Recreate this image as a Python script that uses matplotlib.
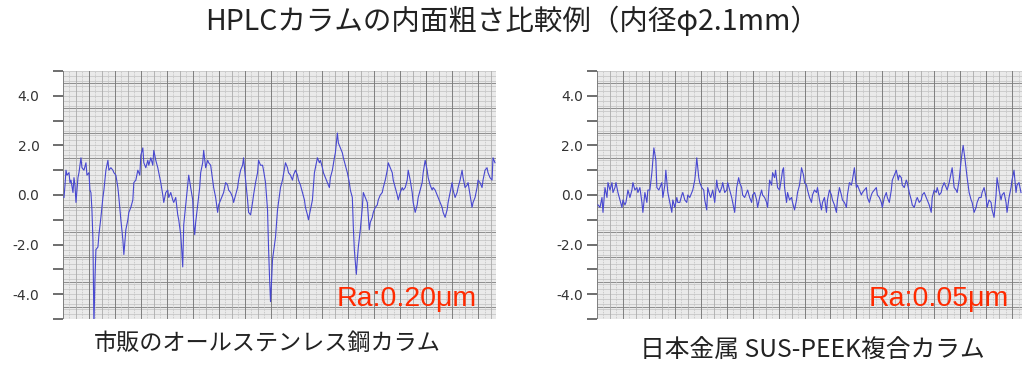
import numpy as np
import matplotlib
matplotlib.use("Agg")
import matplotlib.pyplot as plt

plt.rcParams['font.family'] = ['Noto Sans CJK JP', 'DejaVu Sans']

# ---------------- data ----------------
title = "HPLCカラムの内面粗さ比較例（内径φ2.1mm）"
labels = ["市販のオールステンレス鋼カラム", "日本金属 SUS-PEEK複合カラム"]
ra_labels = ["Ra:0.20μm", "Ra:0.05μm"]
ytick_vals = [-4.0, -2.0, 0.0, 2.0, 4.0]
ytick_text = ["-4.0", "-2.0", "0.0", "2.0", "4.0"]

# left profile (scan position, height)
pos_left = [63,64,65,66,68,69,70,72,73,74,75,77,78,80,81,83,85,86,88,89,90,91,92,93,94,95,97,98,100,
            102,103,105,107,108,110,112,113,115,117,118,120,122,123,124,125,127,128,130,132,133,135,137,
            139,140,142,143,145,147,148,150,152,153,155,157,158,160,162,163,165,167,168,170,172,173,175,
            177,178,180,181,182,183,185,187,188,190,192,193,194,195,197,199,200,202,203,205,207,208,210,
            212,213,215,217,218,220,222,223,225,227,228,230,232,233,235,237,238,240,242,243,245,247,248,
            250,252,253,255,257,258,260,262,263,265,267,268,269,270,271,272,274,275,277,279,280,282,285,
            287,288,290,292,293,295,297,298,300,302,304,305,307,308,310,312,314,315,317,319,320,322,323,
            325,327,329,330,332,334,335,337,338,340,342,343,345,347,349,350,352,353,354,356,357,358,360,
            362,363,365,367,369,370,372,373,375,377,378,380,382,383,385,387,388,390,392,393,395,397,398,
            400,402,403,405,407,408,410,412,413,415,417,418,420,422,423,425,427,428,430,432,433,435,437,
            438,440,442,443,445,447,448,450,452,453,455,457,458,460,462,463,465,467,468,470,472,473,475,
            477,478,480,482,483,485,487,488,490,492,493,495]
val_left = [-0.1,0.4,1.0,0.8,0.9,0.5,0.6,0.1,0.7,0.4,-0.3,0.7,0.9,1.5,1.1,1.0,1.3,0.8,0.9,0.2,0.1,-0.6,
            -1.8,-5.3,-3.4,-2.2,-2.1,-1.6,-0.9,-0.1,0.2,1.0,1.4,1.0,1.1,1.0,0.9,0.8,0.3,-0.1,-1.0,-1.8,
            -2.4,-1.9,-1.4,-1.0,-0.7,-0.5,-0.2,0.5,0.6,1.0,0.8,1.6,1.9,1.3,1.1,1.4,1.2,1.5,1.2,1.8,1.4,
            1.1,0.9,0.5,0.0,-0.3,0.1,0.2,-0.1,0.1,-0.2,-0.3,-0.1,-0.8,-1.0,-1.6,-2.2,-2.9,-1.2,-0.4,0.4,
            0.8,0.3,-0.2,-1.2,-1.6,-1.1,-0.4,0.3,0.9,1.3,1.8,1.1,1.4,1.3,1.2,0.6,0.3,-0.1,-0.7,-0.4,-0.2,
            0.0,0.1,0.5,0.4,0.2,0.1,-0.1,-0.3,0.0,0.3,0.6,1.0,1.2,1.5,0.6,-0.2,-0.7,-0.8,-0.3,0.0,0.5,
            0.9,1.4,1.2,1.2,1.0,0.5,-0.6,-2.1,-3.3,-4.3,-3.5,-2.6,-2.0,-1.7,-0.6,0.0,0.3,0.6,1.3,1.1,0.9,
            0.8,0.6,0.8,1.0,0.8,0.6,0.4,0.1,-0.2,-0.5,-0.8,-1.0,-0.6,-0.2,0.9,1.1,1.5,1.3,1.4,1.1,0.9,0.7,
            0.5,0.3,0.7,1.0,1.5,1.7,2.5,2.1,1.9,1.7,1.5,1.2,0.9,0.5,0.2,-0.1,-1.3,-2.2,-3.2,-2.6,-2.1,
            -1.4,-0.5,0.1,-0.1,-0.3,-1.4,-1.1,-0.9,-0.7,-0.5,-0.4,-0.2,0.0,0.1,0.3,0.6,1.0,1.3,1.1,0.9,
            0.6,0.3,0.0,-0.2,0.1,0.3,0.2,0.3,0.6,1.0,0.6,0.1,-0.3,-0.7,-0.4,-0.1,0.2,0.5,0.9,1.4,1.0,0.7,
            0.4,0.2,0.3,0.2,0.0,-0.1,-0.3,-0.5,-0.7,-0.9,-0.6,-0.3,0.1,0.5,0.2,-0.1,0.1,0.3,0.6,1.0,0.7,
            0.3,0.4,0.5,0.0,-0.5,-0.3,-0.1,0.3,0.6,0.5,0.3,0.6,1.0,1.1,0.9,0.7,0.6,1.5,1.3]

# right profile (scan position, height)
pos_right = [598,600,602,603,605,607,608,610,612,613,615,616,618,620,622,623,625,626,628,630,632,633,635,
             637,638,640,642,643,645,647,648,650,652,653,654,656,657,659,661,662,663,665,666,668,670,672,
             673,675,677,678,680,682,683,685,687,688,690,692,693,695,696,697,699,700,702,704,705,707,708,
             710,711,713,715,717,718,720,722,723,725,727,728,730,732,733,735,737,739,740,742,743,745,747,
             748,750,752,753,755,757,758,760,762,763,765,767,768,770,772,773,775,776,778,780,782,783,784,
             785,787,788,790,792,793,795,797,798,800,801,802,804,805,807,808,810,812,813,815,817,818,820,
             822,823,825,827,828,830,832,833,835,837,838,840,842,843,845,847,848,850,852,853,855,857,858,
             860,862,863,865,867,868,870,872,873,875,877,878,880,882,883,885,887,888,890,892,893,895,897,
             899,900,902,903,905,907,908,910,912,913,915,917,918,920,922,923,925,927,928,930,932,933,935,
             937,938,940,942,943,945,947,948,950,952,953,955,957,958,960,962,964,966,968,970,972,973,975,
             977,978,980,982,983,985,987,988,990,992,993,995,997,998,1000,1002,1003,1005,1007,1008,1010,
             1012,1013,1015,1017,1018,1020,1022]
val_right = [-0.4,-0.5,-0.1,-0.7,0.3,-0.1,0.5,0.2,0.5,0.1,0.3,0.5,0.1,-0.2,-0.5,-0.2,-0.4,-0.3,0.2,-0.1,
             0.2,0.5,0.2,0.3,0.1,0.3,-0.3,-0.7,0.1,-0.3,0.2,0.2,0.9,1.4,1.9,1.4,0.3,0.2,0.4,0.5,-0.1,0.4,
             1.0,0.1,-0.3,-0.7,-0.2,-0.5,-0.1,-0.3,-0.3,0.0,0.1,-0.2,-0.3,0.0,-0.1,0.1,0.2,0.6,1.0,1.5,0.7,
             0.5,0.3,0.2,-0.2,-0.6,0.3,0.0,-0.1,0.2,-0.3,0.6,0.3,0.1,0.3,0.5,0.1,0.2,0.5,0.2,-0.1,-0.3,
             -0.7,0.3,0.7,0.5,0.3,0.0,-0.1,0.1,0.2,-0.1,-0.3,0.0,0.1,-0.2,-0.5,-0.1,0.2,0.0,-0.1,-0.3,-0.5,
             0.6,0.4,0.9,0.7,1.0,0.3,0.2,0.7,1.0,1.1,0.3,-0.3,0.1,-0.2,-0.1,-0.3,-0.6,-0.2,0.1,0.4,0.7,1.1,
             0.8,0.5,0.4,0.2,-0.1,-0.3,0.0,0.2,0.1,0.3,-0.2,-0.6,-0.3,-0.1,-0.7,-0.2,0.2,0.0,-0.2,-0.4,
             -0.7,-0.2,0.3,0.0,-0.2,-0.3,-0.5,0.0,0.5,0.4,0.6,1.1,0.3,0.4,0.2,0.0,0.1,0.2,0.3,-0.1,-0.3,
             0.0,0.1,0.2,0.3,0.0,-0.1,-0.3,-0.5,-0.1,0.1,-0.1,-0.3,0.2,0.6,0.8,1.0,0.6,0.8,0.7,0.4,0.3,0.6,
             0.5,0.1,-0.2,-0.4,-0.5,-0.2,-0.1,-0.3,-0.2,0.0,0.1,-0.1,-0.2,-0.4,-0.7,-0.1,0.2,0.1,0.3,0.0,
             0.1,0.3,0.5,0.3,0.2,0.5,0.9,1.1,0.3,0.2,0.1,0.6,1.4,2.0,1.4,0.7,0.1,-0.2,-0.3,-0.7,-0.5,-0.3,
             -0.1,-0.1,0.1,0.3,-0.1,-0.5,-0.2,-0.3,-0.6,-0.9,0.0,0.7,0.2,-0.2,0.0,0.1,-0.3,-0.7,-0.1,0.3,
             0.6,1.0,0.1,0.4,0.5,0.1]

# ---------------- figure ----------------
W, H = 1024, 379
fig = plt.figure(figsize=(W / 100, H / 100), dpi=100)
fig.patch.set_facecolor('white')

def px_axes(x0, y0, x1, y1):
    return fig.add_axes([x0 / W, 1 - y1 / H, (x1 - x0) / W, (y1 - y0) / H])

ax_l = px_axes(63, 71, 496, 319)
ax_r = px_axes(597, 71, 1022, 319)

def style(ax, xs, pad):
    x0, x1 = min(xs) - 1, max(xs) + 1
    ax.set_xlim(x0, x1)
    ax.set_ylim(-5, 5)
    ax.set_facecolor('#eaeaea')
    # chart-paper grid
    for v in np.arange(-5, 5.01, 0.2):
        ax.axhline(v, color='#c8c8c8', lw=0.6, zorder=0)
    for v in np.arange(-4.5, 5, 1.0):
        ax.axhline(v, color='#8e8e8e', lw=0.7, zorder=0)
    xx = np.arange(x0, x1, 6.5)
    for i, v in enumerate(xx):
        if i % 4 == 0:
            ax.axvline(v, color='#7e7e7e', lw=0.7, zorder=0)
        elif i % 2 == 0:
            ax.axvline(v, color='#ababab', lw=0.6, zorder=0)
        else:
            ax.axvline(v, color='#c0c0c0', lw=0.6, ls=(0, (1, 1)), zorder=0)
    for s in ax.spines.values():
        s.set_visible(False)
    ax.set_xticks([])
    ax.set_yticks(ytick_vals)
    ax.set_yticklabels(ytick_text, fontsize=10, color='#333333', family=['DejaVu Sans'])
    ax.set_yticks(np.arange(-5, 5.1, 1), minor=True)
    ax.tick_params(axis='y', which='both', length=7, width=1.2, color='#555555', pad=pad)

style(ax_l, pos_left, 10)
style(ax_r, pos_right, 3)

ax_l.plot(pos_left, val_left, color='#4848d0', lw=0.8, zorder=3)
ax_r.plot(pos_right, val_right, color='#4848d0', lw=0.8, zorder=3)

ax_l.text(0.955, 0.03, ra_labels[0], transform=ax_l.transAxes, ha='right', va='bottom',
          color='#ff2a00', fontsize=20.5, family=['Liberation Sans'])
ax_r.text(0.97, 0.03, ra_labels[1], transform=ax_r.transAxes, ha='right', va='bottom',
          color='#ff2a00', fontsize=20.5, family=['Liberation Sans'])

fig.text(512 / W, 1 - 22 / H, title, ha='center', va='center', fontsize=20.5, color='#222222')
fig.text(267 / W, 1 - 344 / H, labels[0], ha='center', va='center', fontsize=16.7, color='#222222')
fig.text(812 / W, 1 - 351 / H, labels[1], ha='center', va='center', fontsize=17.8, color='#222222')

fig.savefig('out.png', dpi=100, facecolor='white')
